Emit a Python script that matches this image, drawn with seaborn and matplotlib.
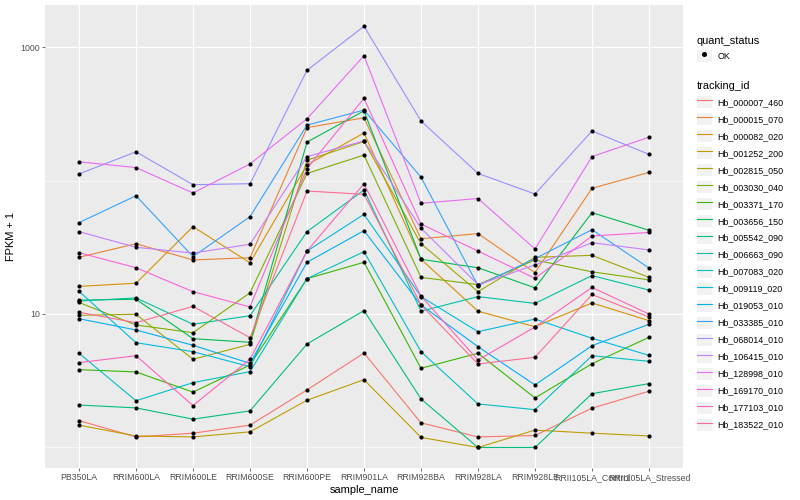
import numpy as np
import pandas as pd
import matplotlib
matplotlib.use("Agg")
import matplotlib.pyplot as plt
import seaborn as sns
from matplotlib.lines import Line2D
from matplotlib.patches import Rectangle
from matplotlib.ticker import FixedLocator, FixedFormatter, NullFormatter

# ------------------------------------------------------------
# data (FPKM + 1)
# ------------------------------------------------------------
samples = ["PB350LA", "RRIM600LA", "RRIM600LE", "RRIM600SE", "RRIM600PE",
           "RRIM901LA", "RRIM928BA", "RRIM928LA", "RRIM928LE",
           "RRII105LA_Control", "RRII105LA_Stressed"]

tracking_ids = ["Hb_000007_460", "Hb_000015_070", "Hb_000082_020", "Hb_001252_200",
                "Hb_002815_050", "Hb_003030_040", "Hb_003371_170", "Hb_003656_150",
                "Hb_005542_090", "Hb_006663_090", "Hb_007083_020", "Hb_009119_020",
                "Hb_019053_010", "Hb_033385_010", "Hb_068014_010", "Hb_106415_010",
                "Hb_128998_010", "Hb_169170_010", "Hb_177103_010", "Hb_183522_010"]

hb_000007_460 = [1.59, 1.20, 1.28, 1.47, 2.70, 5.10, 1.53, 1.20, 1.23, 1.97, 2.64]
hb_000015_070 = [26.6, 33.6, 25.4, 26.4, 249, 295, 36.6, 40.0, 20.4, 87.4, 115]
hb_000082_020 = [16.1, 17.0, 45.1, 24.2, 131, 227, 25.7, 10.5, 8.03, 12.1, 8.91]
hb_001252_200 = [1.47, 1.22, 1.20, 1.31, 2.26, 3.22, 1.19, 1.00, 1.35, 1.28, 1.22]
hb_002815_050 = [9.78, 9.95, 4.58, 5.93, 142, 196, 33.6, 14.7, 26.6, 27.5, 18.8]
hb_003030_040 = [12.2, 8.27, 7.24, 14.4, 113, 155, 18.8, 16.6, 25.4, 20.7, 18.0]
hb_003371_170 = [3.83, 3.68, 2.60, 4.15, 18.4, 24.4, 3.92, 5.08, 2.35, 4.24, 6.69]
hb_003656_150 = [12.7, 12.9, 6.53, 6.14, 194, 332, 25.7, 22.2, 15.7, 57.4, 42.4]
hb_005542_090 = [2.08, 1.98, 1.63, 1.88, 5.96, 10.6, 2.31, 1.00, 1.00, 2.53, 3.01]
hb_006663_090 = [12.5, 13.2, 8.37, 9.71, 41.4, 84.9, 10.5, 13.5, 12.0, 19.4, 15.1]
hb_007083_020 = [5.08, 2.24, 3.06, 3.70, 18.4, 29.3, 5.22, 2.12, 1.92, 4.87, 4.42]
hb_009119_020 = [14.8, 6.10, 5.22, 4.03, 29.6, 55.8, 13.5, 7.37, 9.17, 6.58, 4.90]
hb_019053_010 = [9.22, 7.59, 5.83, 4.27, 24.4, 42.1, 11.7, 5.69, 2.94, 5.79, 8.37]
hb_033385_010 = [48.3, 76.9, 26.9, 53.6, 260, 337, 106, 16.3, 26.0, 42.8, 22.1]
hb_068014_010 = [112, 164, 93.0, 94.6, 669, 1429, 279, 113, 79.2, 235, 157]
hb_106415_010 = [41.4, 31.6, 28.6, 33.3, 151, 198, 43.9, 16.6, 23.3, 34.2, 30.2]
hb_128998_010 = [138, 125, 80.6, 133, 290, 861, 67.5, 73.3, 30.7, 151, 211]
hb_169170_010 = [28.8, 22.2, 14.7, 11.3, 123, 413, 47.2, 29.6, 18.5, 38.4, 40.8]
hb_177103_010 = [4.32, 4.87, 2.06, 4.58, 29.6, 94.6, 13.6, 4.52, 7.99, 15.8, 10.0]
hb_183522_010 = [10.3, 8.61, 11.4, 6.65, 83.4, 78.8, 11.7, 4.22, 4.74, 14.0, 9.50]

series_values = [hb_000007_460, hb_000015_070, hb_000082_020, hb_001252_200,
                 hb_002815_050, hb_003030_040, hb_003371_170, hb_003656_150,
                 hb_005542_090, hb_006663_090, hb_007083_020, hb_009119_020,
                 hb_019053_010, hb_033385_010, hb_068014_010, hb_106415_010,
                 hb_128998_010, hb_169170_010, hb_177103_010, hb_183522_010]

# ggplot hue palette for 20 levels
colors = ["#F8766D", "#EA8331", "#D89000", "#C09B00", "#A3A500", "#7CAE00",
          "#39B600", "#00BB4E", "#00BF7D", "#00C1A3", "#00BFC4", "#00BAE0",
          "#00B0F6", "#35A2FF", "#9590FF", "#C77CFF", "#E76BF3", "#FA62DB",
          "#FF62BC", "#FF6C91"]

rows = []
for tid, vals in zip(tracking_ids, series_values):
    for s, v in zip(samples, vals):
        rows.append({"sample_name": s, "tracking_id": tid, "fpkm1": v, "quant_status": "OK"})
df = pd.DataFrame(rows)
df["sample_name"] = pd.Categorical(df["sample_name"], categories=samples, ordered=True)

# ------------------------------------------------------------
# plot
# ------------------------------------------------------------
plt.rcParams["font.family"] = ["Liberation Sans", "DejaVu Sans"]

fig, ax = plt.subplots(figsize=(8, 5), dpi=100)
fig.subplots_adjust(left=0.056, right=0.854, bottom=0.064, top=0.99)

sns.lineplot(data=df, x="sample_name", y="fpkm1", hue="tracking_id",
             hue_order=tracking_ids, palette=colors, linewidth=0.8,
             estimator=None, legend=False, ax=ax)
sns.scatterplot(data=df, x="sample_name", y="fpkm1", color="black", s=9,
                linewidth=0, legend=False, ax=ax, zorder=3)

ax.set_yscale("log")
ax.set_ylim(0.702, 2064)
ax.set_xlim(-0.6, len(samples) - 0.4)
ax.set_facecolor("#EBEBEB")
ax.yaxis.set_major_locator(FixedLocator([10, 1000]))
ax.yaxis.set_major_formatter(FixedFormatter(["10", "1000"]))
ax.yaxis.set_minor_locator(FixedLocator([1, 100]))
ax.yaxis.set_minor_formatter(NullFormatter())
ax.grid(which="major", color="white", linewidth=0.8)
ax.grid(which="minor", axis="y", color="white", linewidth=0.4)
ax.set_axisbelow(True)
for sp in ax.spines.values():
    sp.set_visible(False)
ax.tick_params(which="major", length=2, width=0.5, color="#333333",
               labelsize=6.3, labelcolor="#4D4D4D", pad=1.5)
ax.tick_params(which="minor", length=0)
ax.set_xlabel("sample_name", fontsize=7.9, labelpad=2)
ax.set_ylabel("FPKM + 1", fontsize=7.9, labelpad=3)

# legends, ggplot style (grey key boxes)
key_bg = "#F2F2F2"
point_handle = (Rectangle((0, 0), 1, 1, facecolor=key_bg, edgecolor="none"),
                Line2D([], [], marker="o", color="black", linestyle="", markersize=2.6))
leg1 = ax.legend([point_handle], ["OK"], title="quant_status",
                 loc="upper left", bbox_to_anchor=(0.871, 0.929),
                 bbox_transform=fig.transFigure, frameon=False,
                 fontsize=6.4, title_fontsize=7.9, alignment="left",
                 handlelength=1.7, handleheight=1.7, handletextpad=0.6,
                 borderpad=0, borderaxespad=0)
ax.add_artist(leg1)

line_handles = [(Rectangle((0, 0), 1, 1, facecolor=key_bg, edgecolor="none"),
                 Line2D([], [], color=c, linewidth=0.8)) for c in colors]
leg2 = ax.legend(line_handles, tracking_ids, title="tracking_id",
                 loc="upper left", bbox_to_anchor=(0.871, 0.838),
                 bbox_transform=fig.transFigure, frameon=False,
                 fontsize=6.4, title_fontsize=7.9, alignment="left",
                 handlelength=1.7, handleheight=1.7, handletextpad=0.6,
                 labelspacing=0.56, borderpad=0, borderaxespad=0)

plt.savefig("out.png", dpi=100)
